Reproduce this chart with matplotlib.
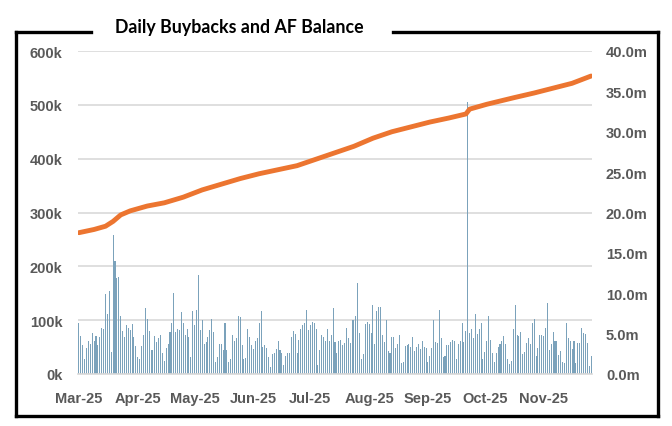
import matplotlib
matplotlib.use('Agg')

import numpy as np
import pandas as pd
import matplotlib.pyplot as plt
from matplotlib.lines import Line2D
from matplotlib.ticker import FuncFormatter

# daily buybacks, thousands, from 2025-03-01
start = '2025-03-01'
buybacks_k = [
    94, 70, 53, 28, 48, 62, 56, 76, 62, 70, 54, 69, 86, 84, 148, 111, 154, 41, 258, 210,
    178, 181, 108, 79, 69, 91, 86, 81, 92, 69, 52, 31, 28, 52, 73, 122, 103,
    79, 44, 44, 70, 59, 67, 73, 39, 25, 48, 56, 78, 94, 151, 78, 84, 81, 116, 95, 72,
    84, 69, 32, 117, 91, 119, 184, 81, 100, 56, 59, 69, 81, 103, 78, 23, 31, 56, 55,
    44, 94, 44, 22, 28, 72, 62, 66, 108,
    106, 53, 28, 29, 84, 69, 53, 46, 61, 67, 94, 117, 50, 53, 48, 31, 13, 38, 39, 47,
    61, 44, 39, 16, 33, 39, 39, 69, 79, 75, 39, 64, 84, 91, 95, 119, 81, 91, 97, 95,
    84, 16, 44, 73, 69, 62, 84,
    62, 73, 122, 59, 39, 62, 64, 54, 58, 86, 66, 58, 101, 101, 108, 169, 77, 28, 38, 92,
    97, 92, 77, 129, 56, 117, 125, 124, 72, 59, 101, 42, 39, 69, 69, 48, 56, 72, 21, 22,
    52, 53, 56, 50, 69, 42, 50, 56,
    47, 62, 50, 48, 23, 33, 48, 100, 59, 58, 119, 66, 31, 34, 53, 53, 59, 64, 62, 28,
    56, 62, 94, 59, 79, 505, 77, 83, 66, 111, 75, 83, 95, 27, 41, 61, 108, 64, 39, 22,
    39, 50, 56, 62, 71, 56, 28, 19,
    25, 84, 128, 73, 71, 78, 38, 41, 58, 66, 56, 94, 102, 34, 48, 73, 73, 71, 86, 131,
    44, 56, 78, 61, 61, 36, 42, 22, 21, 94, 67, 61, 47, 62, 21, 58, 58, 86, 77, 75,
    58, 14, 33,
]

# AF balance, millions
balance_dates = [
    '2025-03-01', '2025-03-09', '2025-03-15', '2025-03-19', '2025-03-23', '2025-03-28',
    '2025-04-06', '2025-04-15', '2025-04-25', '2025-05-05', '2025-05-15', '2025-05-25',
    '2025-06-04', '2025-06-14', '2025-06-24', '2025-07-04', '2025-07-14', '2025-07-24',
    '2025-08-03', '2025-08-13', '2025-08-23', '2025-09-02', '2025-09-12', '2025-09-21',
    '2025-09-23', '2025-10-02', '2025-10-16', '2025-10-27', '2025-11-06', '2025-11-16',
    '2025-11-26',
]
balance_m = [
    17.5, 17.9, 18.3, 18.9, 19.7, 20.2,
    20.8, 21.2, 21.9, 22.8, 23.5, 24.2,
    24.8, 25.3, 25.8, 26.6, 27.4, 28.2,
    29.2, 30.0, 30.6, 31.2, 31.7, 32.2,
    32.8, 33.4, 34.2, 34.8, 35.4, 36.0,
    36.9,
]

month_ticks = ['2025-03-01', '2025-04-01', '2025-05-01', '2025-06-01', '2025-07-01',
               '2025-08-01', '2025-09-01', '2025-10-01', '2025-11-01']
month_labels = ['Mar-25', 'Apr-25', 'May-25', 'Jun-25', 'Jul-25',
                'Aug-25', 'Sep-25', 'Oct-25', 'Nov-25']

W, H = 672, 427
fig = plt.figure(figsize=(W / 100, H / 100), dpi=100)

ax = fig.add_axes([78 / W, 1 - 375 / H, (592 - 78) / W, (375 - 52) / H])
dates = pd.date_range(start, periods=len(buybacks_k))
ax.bar(dates, np.array(buybacks_k) * 1000, width=0.55, color='#7ba2bb', linewidth=0, zorder=2)
ax.set_ylim(0, 600000)
ax.set_yticks(range(0, 600001, 100000))
ax.yaxis.set_major_formatter(FuncFormatter(lambda v, p: '%dk' % int(v / 1000)))
ax.grid(axis='y', color='#d9d9d9', lw=1.2, zorder=0)
ax.set_axisbelow(True)
for s in ax.spines.values():
    s.set_visible(False)
ax.spines['bottom'].set_visible(True)
ax.spines['bottom'].set_color('#d9d9d9')
ax.spines['bottom'].set_linewidth(1.2)

ax.set_xticks(pd.to_datetime(month_ticks))
ax.set_xticklabels(month_labels)
ax.set_xlim(pd.Timestamp(start) - pd.Timedelta(days=0.5), dates[-1] + pd.Timedelta(days=0.5))

tick_font = dict(family=['Liberation Sans', 'DejaVu Sans'], weight='bold', size=10.5)
ax.tick_params(axis='both', length=0, colors='#595959')
ax.tick_params(axis='y', pad=11)
ax.tick_params(axis='x', pad=12)
for lab in ax.get_xticklabels() + ax.get_yticklabels():
    lab.set_fontproperties(matplotlib.font_manager.FontProperties(**tick_font))

ax2 = ax.twinx()
ax2.plot(pd.to_datetime(balance_dates), balance_m, color='#ec7530', lw=3.5,
         solid_capstyle='round', solid_joinstyle='round', zorder=3)
ax2.set_ylim(0, 40)
ax2.set_yticks(np.arange(0, 40.1, 5))
ax2.yaxis.set_major_formatter(FuncFormatter(lambda v, p: '%.1fm' % v))
for s in ax2.spines.values():
    s.set_visible(False)
ax2.tick_params(axis='y', length=0, colors='#595959', pad=10)
for lab in ax2.get_yticklabels():
    lab.set_fontproperties(matplotlib.font_manager.FontProperties(**tick_font))

# frame round the chart, broken where the title sits
def fline(x0, y0, x1, y1):
    fig.add_artist(Line2D([x0 / W, x1 / W], [1 - y0 / H, 1 - y1 / H],
                          color='black', lw=2.4, solid_capstyle='projecting'))

fline(16, 33, 91, 33)
fline(393, 33, 658, 33)
fline(16, 33, 16, 417)
fline(658, 33, 658, 417)
fline(16, 417, 658, 417)

fig.text(239 / W, 1 - 28 / H, 'Daily Buybacks and AF Balance', ha='center', va='center',
         fontsize=12.8, fontweight='bold', family=['Lato', 'DejaVu Sans'])

fig.savefig('out.png', dpi=100)
